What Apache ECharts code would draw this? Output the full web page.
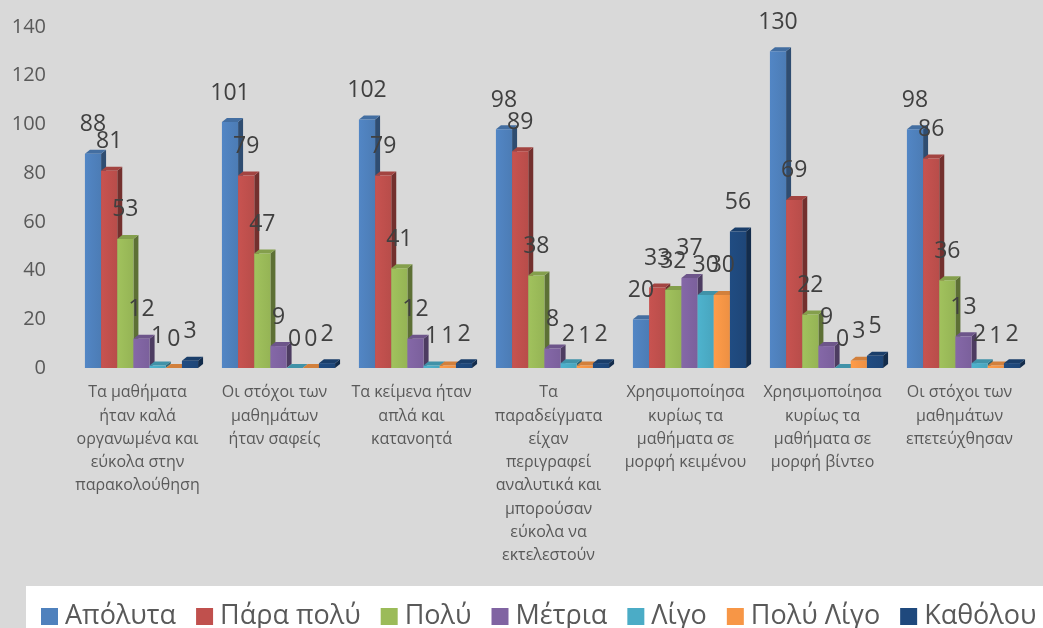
<!DOCTYPE html>
<html>
<head>
<meta charset="utf-8">
<script src="https://cdn.jsdelivr.net/npm/echarts@6/dist/echarts.min.js"></script>
<style>
  html, body { margin: 0; padding: 0; background: #d9d9d9; }
  #chart { width: 1043px; height: 628px; }
</style>
</head>
<body>
<div id="chart"></div>
<script>
// Survey statements (x axis)
const categories = [
  'Τα μαθήματα\nήταν καλά\nοργανωμένα και\nεύκολα στην\nπαρακολούθηση',
  'Οι στόχοι των\nμαθημάτων\nήταν σαφείς',
  'Τα κείμενα ήταν\nαπλά και\nκατανοητά',
  'Τα\nπαραδείγματα\nείχαν\nπεριγραφεί\nαναλυτικά και\nμπορούσαν\nεύκολα να\nεκτελεστούν',
  'Χρησιμοποίησα\nκυρίως τα\nμαθήματα σε\nμορφή κειμένου',
  'Χρησιμοποίησα\nκυρίως τα\nμαθήματα σε\nμορφή βίντεο',
  'Οι στόχοι των\nμαθημάτων\nεπετεύχθησαν'
];

// Answer scale
const seriesNames = ['Απόλυτα', 'Πάρα πολύ', 'Πολύ', 'Μέτρια', 'Λίγο', 'Πολύ Λίγο', 'Καθόλου'];

// Number of answers per statement
const apolyta   = [88, 101, 102, 98, 20, 130, 98];
const paraPoly  = [81, 79, 79, 89, 33, 69, 86];
const poly      = [53, 47, 41, 38, 32, 22, 36];
const metria    = [12, 9, 12, 8, 37, 9, 13];
const ligo      = [1, 0, 1, 2, 30, 0, 2];
const polyLigo  = [0, 0, 1, 1, 30, 3, 1];
const katholou  = [3, 2, 2, 2, 56, 5, 2];

const seriesValues = [apolyta, paraPoly, poly, metria, ligo, polyLigo, katholou];
const colors = ['#4f81bd', '#c0504d', '#9bbb59', '#8064a2', '#4bacc6', '#f79646', '#1f497d'];

const yMin = 0, yMax = 140, yStep = 20;

function shade(hex, f) {
  const n = parseInt(hex.slice(1), 16);
  const r = Math.min(255, Math.round(((n >> 16) & 255) * f));
  const g = Math.min(255, Math.round(((n >> 8) & 255) * f));
  const b = Math.min(255, Math.round((n & 255) * f));
  return 'rgb(' + r + ',' + g + ',' + b + ')';
}

// Pseudo-3D column: front face, right side and top face
const DX = 5, DY = -4, SHIFT = 4, BAR_FRAC = 0.118;
function makeRenderItem(k, color) {
  return function (params, api) {
    const cat = api.value(0);
    const val = api.value(1);
    const base = api.coord([cat, 0]);
    const top = api.coord([cat, val]);
    const bw = api.size([1, 0])[0] * BAR_FRAC;
    const x0 = base[0] + SHIFT + (k - 3.5) * bw;
    const x1 = x0 + bw;
    const yb = base[1], yt = top[1];
    return {
      type: 'group',
      children: [
        { type: 'polygon', shape: { points: [[x1, yb], [x1 + DX, yb + DY], [x1 + DX, yt + DY], [x1, yt]] },
          style: { fill: shade(color, 0.6) } },
        { type: 'polygon', shape: { points: [[x0, yt], [x0 + DX, yt + DY], [x1 + DX, yt + DY], [x1, yt]] },
          style: { fill: shade(color, 0.85) } },
        { type: 'rect', shape: { x: x0, y: yt, width: bw, height: yb - yt },
          style: { fill: {
            type: 'linear', x: 0, y: 0, x2: 1, y2: 0,
            colorStops: [{ offset: 0, color: shade(color, 1.04) }, { offset: 1, color: shade(color, 0.96) }]
          } } },
        { type: 'text', z2: 100,
          style: { text: String(val), x: (x0 + x1) / 2, y: yt - 29, align: 'center', verticalAlign: 'middle',
                   font: '23px "Open Sans"', fill: '#404040' } }
      ]
    };
  };
}

const series = seriesNames.map((name, k) => ({
  name: name,
  type: 'custom',
  itemStyle: { color: colors[k] },
  encode: { x: 0, y: 1 },
  data: seriesValues[k].map((v, i) => [i, v]),
  renderItem: makeRenderItem(k, colors[k])
}));

const chart = echarts.init(document.getElementById('chart'), null, { renderer: 'canvas' });
chart.setOption({
  backgroundColor: '#d9d9d9',
  animation: false,
  textStyle: { fontFamily: '"Open Sans", sans-serif' },
  grid: { left: 69, right: 15, top: 27, bottom: 260, containLabel: false },
  graphic: [
    { type: 'rect', left: 26, top: 586, shape: { width: 1017, height: 42 }, style: { fill: '#ffffff' }, z: -1 }
  ],
  legend: {
    data: seriesNames,
    left: 41, top: 603, width: 1002, padding: 0,
    icon: 'rect', itemWidth: 17, itemHeight: 17, itemGap: 20,
    textStyle: { fontSize: 27, color: '#595959', fontFamily: '"Open Sans"', padding: [0, 0, 0, 2] }
  },
  xAxis: {
    type: 'category',
    data: categories,
    axisLine: { show: false },
    axisTick: { show: false },
    axisLabel: { interval: 0, fontSize: 16, color: '#595959', lineHeight: 23.3, margin: 13, fontFamily: '"Open Sans"' }
  },
  yAxis: {
    type: 'value',
    min: yMin, max: yMax, interval: yStep,
    axisLine: { show: false },
    axisTick: { show: false },
    splitLine: { show: false },
    axisLabel: { fontSize: 20, color: '#595959', margin: 23, fontFamily: '"Open Sans"' }
  },
  series: series
});
</script>
</body>
</html>
